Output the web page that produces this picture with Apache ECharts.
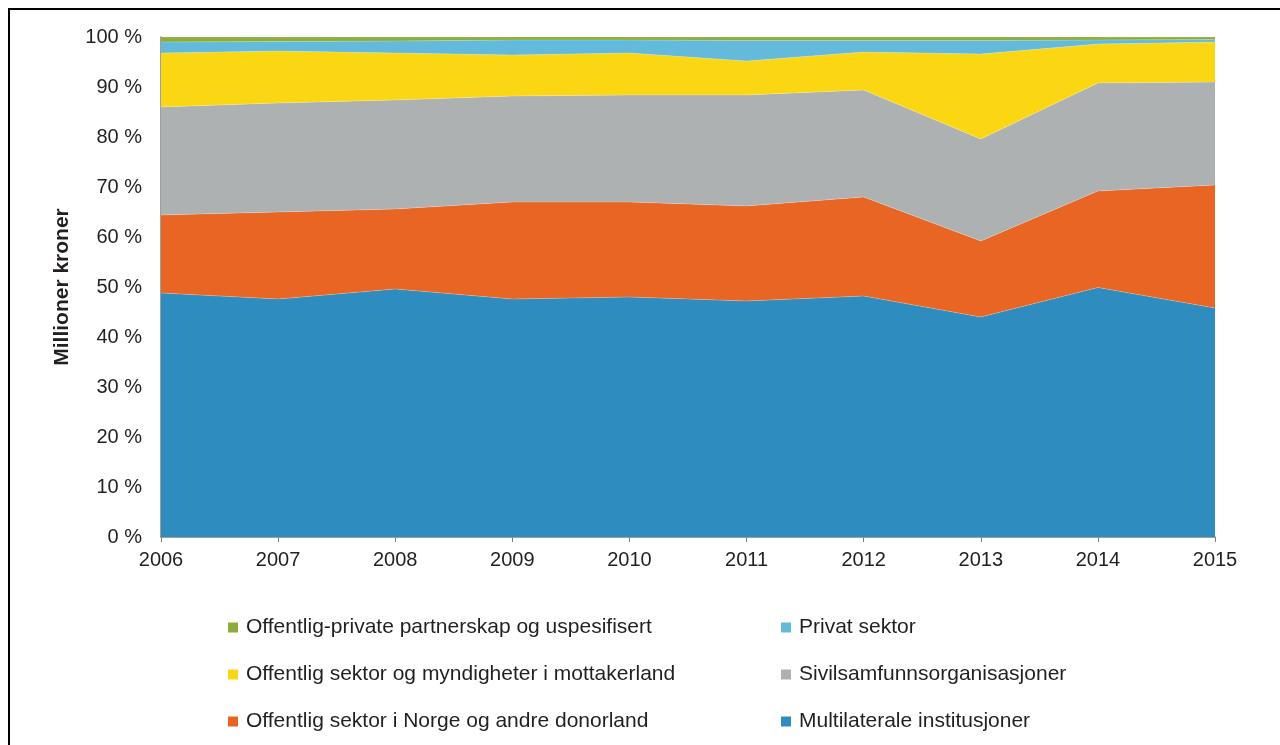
<!DOCTYPE html>
<html>
<head>
<meta charset="utf-8">
<script src="https://cdn.jsdelivr.net/npm/echarts@6/dist/echarts.min.js"></script>
<style>
html,body{margin:0;padding:0;background:#fff;}
#chart{width:1280px;height:745px;}
</style>
</head>
<body>
<div id="chart"></div>
<script>
var years = ['2006','2007','2008','2009','2010','2011','2012','2013','2014','2015'];
var multilaterale = [48.8, 47.6, 49.6, 47.6, 48.0, 47.2, 48.2, 44.0, 49.9, 45.8];
var offNorge = [15.6, 17.4, 16.0, 19.4, 19.0, 19.0, 19.8, 15.2, 19.3, 24.6];
var sivil = [21.6, 21.8, 21.8, 21.2, 21.4, 22.2, 21.4, 20.4, 21.6, 20.6];
var offMottaker = [10.8, 10.4, 9.4, 8.2, 8.4, 6.8, 7.6, 17.0, 7.8, 8.0];
var privat = [2.2, 1.9, 2.4, 3.0, 2.6, 4.1, 2.3, 2.7, 0.8, 0.5];
var ppp = [1.0, 0.9, 0.8, 0.6, 0.6, 0.7, 0.7, 0.7, 0.6, 0.5];

var names = {
  ppp: 'Offentlig-private partnerskap og uspesifisert',
  privat: 'Privat sektor',
  mott: 'Offentlig sektor og myndigheter i mottakerland',
  sivil: 'Sivilsamfunnsorganisasjoner',
  norge: 'Offentlig sektor i Norge og andre donorland',
  multi: 'Multilaterale institusjoner'
};
var colors = {
  multi: '#2E8DBE', norge: '#E96524', sivil: '#AEB1B2',
  mott: '#FAD712', privat: '#63BADA', ppp: '#8AAD3B'
};

function areaSeries(name, data, color) {
  return {
    name: name, type: 'line', stack: 'total', data: data,
    symbol: 'none', smooth: false,
    lineStyle: { width: 0.6, color: 'rgba(255,255,255,0.35)' },
    itemStyle: { color: color },
    areaStyle: { color: color, opacity: 1 },
    emphasis: { disabled: true }
  };
}

var chart = echarts.init(document.getElementById('chart'));
var txt = '#231F20';
var font = '"Liberation Sans", Arial, sans-serif';
chart.setOption({
  animation: false,
  backgroundColor: '#fff',
  textStyle: { fontFamily: font },
  graphic: [{
    type: 'rect', silent: true, z: 100,
    shape: { x: 9, y: 9, width: 1300, height: 800 },
    style: { fill: 'none', stroke: '#000', lineWidth: 2 }
  }],
  grid: { left: 161, right: 65, top: 37, bottom: 208 },
  legend: [{
    orient: 'vertical', left: 223, top: 612, itemGap: 26,
    itemWidth: 10, itemHeight: 10, icon: 'rect',
    textStyle: { fontSize: 21, color: txt, fontFamily: font, padding: [0, 0, 0, 3] },
    data: [names.ppp, names.mott, names.norge]
  }, {
    orient: 'vertical', left: 776, top: 612, itemGap: 26,
    itemWidth: 10, itemHeight: 10, icon: 'rect',
    textStyle: { fontSize: 21, color: txt, fontFamily: font, padding: [0, 0, 0, 3] },
    data: [names.privat, names.sivil, names.multi]
  }],
  xAxis: {
    type: 'category', data: years, boundaryGap: false,
    axisLine: { lineStyle: { color: '#7F7F7F', width: 1.5 } },
    axisTick: { show: true, length: 5, lineStyle: { color: '#7F7F7F' } },
    axisLabel: { fontSize: 20, color: txt, margin: 13, fontFamily: font }
  },
  yAxis: {
    type: 'value', min: 0, max: 100, interval: 10,
    name: 'Millioner kroner', nameLocation: 'middle', nameGap: 88, nameRotate: 90,
    nameTextStyle: { fontSize: 21, fontWeight: 'bold', color: txt, fontFamily: font },
    axisLine: { show: true, lineStyle: { color: '#7F7F7F', width: 1.5 } },
    axisTick: { show: false },
    splitLine: { show: false },
    axisLabel: { fontSize: 20, color: txt, margin: 19, formatter: '{value} %', fontFamily: font }
  },
  series: [
    areaSeries(names.multi, multilaterale, colors.multi),
    areaSeries(names.norge, offNorge, colors.norge),
    areaSeries(names.sivil, sivil, colors.sivil),
    areaSeries(names.mott, offMottaker, colors.mott),
    areaSeries(names.privat, privat, colors.privat),
    areaSeries(names.ppp, ppp, colors.ppp)
  ]
});
</script>
</body>
</html>
